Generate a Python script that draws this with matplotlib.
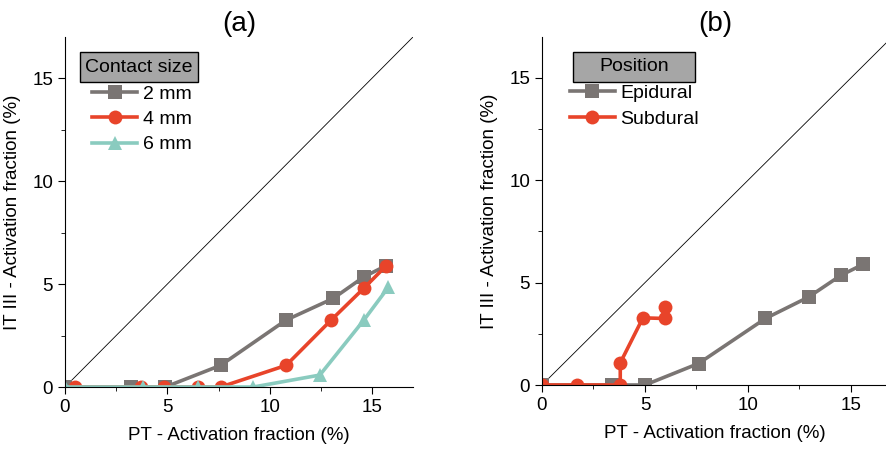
import matplotlib
matplotlib.use('Agg')
import matplotlib.pyplot as plt
from matplotlib.patches import Rectangle
from matplotlib.ticker import MultipleLocator

plt.rcParams['font.family'] = ['Liberation Sans', 'DejaVu Sans']

# panel (a): contact size
pt_2mm = [0, 3.2, 4.9, 7.6, 10.8, 13.1, 14.6, 15.7]
it_2mm = [0, 0, 0, 1.05, 3.25, 4.3, 5.35, 5.9]
pt_4mm = [0.5, 3.7, 4.85, 6.5, 7.6, 10.8, 13.0, 14.6, 15.7]
it_4mm = [0, 0, 0, 0, 0, 1.05, 3.25, 4.8, 5.9]
pt_6mm = [0, 3.8, 6.5, 9.2, 12.45, 14.6, 15.8]
it_6mm = [0, 0, 0, 0, 0.58, 3.25, 4.85]

# panel (b): position
pt_epi = [0, 3.4, 5.0, 7.6, 10.85, 12.95, 14.5, 15.6]
it_epi = [0, 0, 0, 1.05, 3.25, 4.3, 5.35, 5.9]
pt_sub = [0, 1.7, 3.8, 3.8, 4.9, 5.95, 5.95]
it_sub = [0, 0, 0, 1.08, 3.28, 3.25, 3.8]

GRAY = '#7a7573'
RED = '#e8442a'
TEAL = '#8acbbf'

fig = plt.figure(figsize=(8.87, 4.49), dpi=100)
ax1 = fig.add_axes([65/887, 62/449, 348/887, 350/449])
ax2 = fig.add_axes([542/887, 64/449, 346/887, 348/449])

def style(ax, xmax):
    ax.set_xlim(0, xmax)
    ax.set_ylim(0, 17)
    ax.spines['top'].set_visible(False)
    ax.spines['right'].set_visible(False)
    ax.xaxis.set_major_locator(MultipleLocator(5))
    ax.xaxis.set_minor_locator(MultipleLocator(2.5))
    ax.yaxis.set_major_locator(MultipleLocator(5))
    ax.yaxis.set_minor_locator(MultipleLocator(2.5))
    ax.tick_params(which='major', direction='out', length=5, labelsize=13.5)
    ax.tick_params(which='minor', direction='out', length=3)
    ax.set_xlabel('PT - Activation fraction (%)', fontsize=13.5, labelpad=8)
    ax.set_ylabel('IT III - Activation fraction (%)', fontsize=13.5, labelpad=8)
    ax.plot([0, 17], [0, 17], color='black', lw=0.6)

def title_box(ax, x0, w, text):
    # grey legend header box with black border
    ax.add_patch(Rectangle((x0, 0.871), w, 0.086, transform=ax.transAxes,
                           fc='#a6a6a6', ec='black', lw=1, clip_on=False, zorder=5))
    ax.text(x0 + w/2, 0.914, text, transform=ax.transAxes, ha='center', va='center',
            fontsize=14, zorder=6)

kw = dict(lw=2.6, markersize=10, markeredgewidth=0)
leg_kw = dict(loc='upper left', frameon=False, fontsize=14, handlelength=2.3,
              handletextpad=0.3, labelspacing=0.4, borderaxespad=0, borderpad=0)

style(ax1, 17)
ax1.plot(pt_2mm, it_2mm, color=GRAY, marker='s', label='2 mm', **kw)
ax1.plot(pt_4mm, it_4mm, color=RED, marker='o', label='4 mm', **kw)
ax1.plot(pt_6mm, it_6mm, color=TEAL, marker='^', label='6 mm', **kw)
title_box(ax1, 0.043, 0.339, 'Contact size')
ax1.legend(bbox_to_anchor=(0.078, 0.863), **leg_kw)
ax1.set_title('(a)', fontsize=20, pad=3)

style(ax2, 16.8)
ax2.plot(pt_epi, it_epi, color=GRAY, marker='s', label='Epidural', **kw)
ax2.plot(pt_sub, it_sub, color=RED, marker='o', label='Subdural', **kw)
title_box(ax2, 0.09, 0.353, 'Position')
ax2.legend(bbox_to_anchor=(0.081, 0.863), **leg_kw)
ax2.set_title('(b)', fontsize=20, pad=3)

fig.savefig('out.png', dpi=100)
